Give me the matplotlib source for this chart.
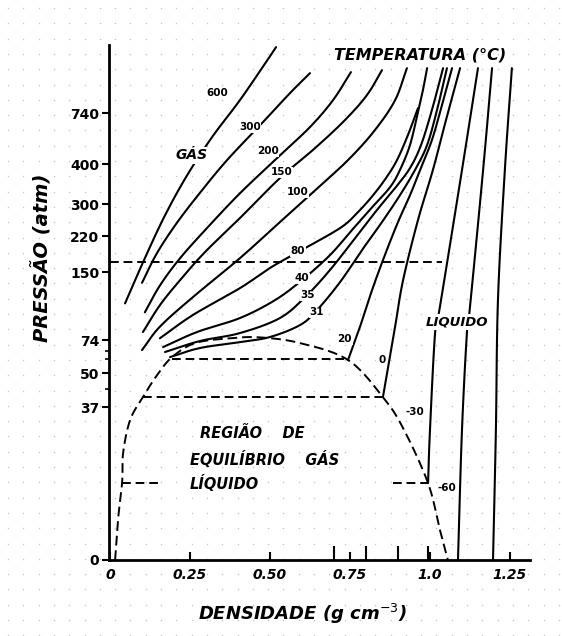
import numpy as np
import matplotlib
matplotlib.use("Agg")
import matplotlib.pyplot as plt

# Escala de pressão do diagrama (não linear): valor em atm -> altura relativa
P_ANCHOR = [0, 37, 50, 74, 150, 220, 300, 400, 740, 1600]
H_ANCHOR = [0, 153, 187, 220, 288, 324, 356, 396, 447, 515]

# Isotermas: densidade (g cm-3) e pressão (atm)
iso_600_d = [0.047, 0.109, 0.172, 0.241, 0.319, 0.406, 0.4875, 0.519]
iso_600_p = [115, 177, 272, 372, 580, 904, 1385, 1575]
iso_300_d = [0.100, 0.147, 0.209, 0.281, 0.366, 0.478, 0.5625, 0.625]
iso_300_p = [138, 187, 253, 328, 427, 680, 993, 1246]
iso_200_d = [0.109, 0.156, 0.219, 0.303, 0.406, 0.522, 0.625, 0.697, 0.753]
iso_200_p = [105, 135, 177, 240, 327, 440, 647, 904, 1259]
iso_150_d = [0.103, 0.156, 0.219, 0.297, 0.406, 0.531, 0.641, 0.734, 0.803, 0.85]
iso_150_p = [83, 113, 141, 189, 265, 365, 507, 693, 968, 1284]
iso_100_d = [0.100, 0.156, 0.259, 0.406, 0.531, 0.656, 0.75, 0.828, 0.891, 0.928]
iso_100_p = [66.7, 89, 122, 177, 255, 345, 440, 627, 904, 1309]
iso_80_d = [0.156, 0.259, 0.406, 0.50, 0.5875, 0.719, 0.775, 0.822, 0.8625, 0.897, 0.931, 0.9625]
iso_80_p = [76, 102, 132, 158, 189, 240, 280, 322, 365, 427, 593, 803]
iso_40_d = [0.166, 0.272, 0.406, 0.516, 0.60, 0.6875, 0.756, 0.819, 0.875, 0.906, 0.9375,
            0.9625, 0.978, 0.991]
iso_40_p = [68.9, 83, 98.6, 118.7, 141, 183, 235, 292, 342, 385, 527, 753, 1031, 1309]
iso_35_d = [0.172, 0.281, 0.406, 0.531, 0.6125, 0.6875, 0.766, 0.834, 0.891, 0.9375,
            0.972, 1.006, 1.041]
iso_35_p = [65.3, 73.3, 81.8, 98.6, 123, 154, 216, 285, 340, 390, 527, 778, 1309]
iso_31_d = [0.1875, 0.281, 0.406, 0.50, 0.594, 0.647, 0.719, 0.7875, 0.85, 0.906, 0.953,
            0.991, 1.022, 1.053]
iso_31_p = [61.6, 68.2, 72.5, 77.4, 90.8, 107.5, 138.8, 192.8, 255, 322, 385, 527, 778, 1309]
iso_20_d = [0.744, 0.781, 0.819, 0.859, 0.90, 0.9375, 0.969, 1.006, 1.0375, 1.069]
iso_20_p = [59.5, 88.5, 129.9, 183, 255, 322, 385, 560, 841, 1309]
iso_0_d = [0.853, 0.891, 0.916, 0.9625, 1.009, 1.05, 1.094]
iso_0_p = [40.8, 89, 141, 260, 385, 693, 1309]
iso_m30_d = [0.994, 1.0, 1.016, 1.031, 1.10, 1.15]
iso_m30_p = [18.6, 31.4, 82, 111, 385, 1309]
iso_m60_d = [1.0875, 1.10, 1.116, 1.125, 1.166, 1.194]
iso_m60_p = [0, 31.4, 85, 111, 385, 1309]
iso_solid_d = [1.197, 1.206, 1.2125, 1.234, 1.256]
iso_solid_p = [0, 31.4, 119, 385, 1309]

# Curva de saturação (tracejada)
dome_d = [0.016, 0.025, 0.038, 0.041, 0.063, 0.103, 0.147, 0.194, 0.266, 0.375,
          0.469, 0.594, 0.744, 0.853, 0.916, 0.994, 1.031, 1.056]
dome_p = [0, 9.7, 18.9, 25.9, 33.9, 40.8, 49.2, 61.6, 71.8, 76,
          77, 71.8, 59.5, 40.8, 31.9, 18.6, 7.3, 0]

# Linhas de amarração (tracejadas): (d_ini, d_fim, pressão)
tie_lines = [(0.194, 0.744, 60), (0.103, 0.853, 40.8),
             (0.038, 0.156, 18.6), (0.884, 0.994, 18.6), (0.0, 1.0375, 169)]

# Rótulos das isotermas: texto, densidade, pressão
iso_labels = ["600", "300", "200", "150", "100", "80", "40", "35", "31", "20", "0", "-30", "-60"]
label_d = [0.334, 0.4375, 0.494, 0.5375, 0.5875, 0.5875, 0.60, 0.619, 0.647, 0.734, 0.85, 0.953, 1.053]
label_p = [993, 647, 487, 380, 330, 191, 143, 124, 105, 75, 59.5, 35.8, 17.4]

y_ticks = [0, 37, 50, 74, 150, 220, 300, 400, 740]
x_ticks = [0, 0.25, 0.50, 0.75, 1.0, 1.25]
x_tick_labels = ["0", "0.25", "0.50", "0.75", "1.0", "1.25"]


def fwd(p):
    return np.interp(p, P_ANCHOR, H_ANCHOR)


def inv(h):
    return np.interp(h, H_ANCHOR, P_ANCHOR)


def smooth(d, p, n=16):
    # traço suave (Catmull-Rom) entre os pontos lidos, no espaço da escala
    pts = np.column_stack([d, fwd(np.asarray(p, float))])
    ext = np.vstack([2 * pts[0] - pts[1], pts, 2 * pts[-1] - pts[-2]])
    t = np.linspace(0, 1, n, endpoint=False)[:, None]
    out = []
    for i in range(1, len(ext) - 2):
        p0, p1, p2, p3 = ext[i - 1], ext[i], ext[i + 1], ext[i + 2]
        out.append(0.5 * ((2 * p1) + (-p0 + p2) * t
                          + (2 * p0 - 5 * p1 + 4 * p2 - p3) * t ** 2
                          + (-p0 + 3 * p1 - 3 * p2 + p3) * t ** 3))
    out.append(pts[-1:])
    out = np.vstack(out)
    return out[:, 0], inv(out[:, 1])


fig = plt.figure(figsize=(5.62, 6.36), dpi=100)

# textura pontilhada do papel
bg = fig.add_axes([0, 0, 1, 1], zorder=-5)
bg.set_xlim(0, 562)
bg.set_ylim(636, 0)
bg.axis("off")
gx, gy = np.meshgrid(np.arange(8, 562, 15.3), np.arange(8, 636, 15.3))
bg.scatter(gx.ravel(), gy.ravel(), s=1.2, color="#c4c4c4", lw=0)

ax = fig.add_axes([0.194, 0.1195, 0.749, 0.8095])
ax.patch.set_alpha(0)
ax.set_yscale("function", functions=(fwd, inv))
ax.set_xlim(-0.003, 1.3125)
ax.set_ylim(0, 1600)

curves = [
    (iso_600_d, iso_600_p), (iso_300_d, iso_300_p), (iso_200_d, iso_200_p),
    (iso_150_d, iso_150_p), (iso_100_d, iso_100_p), (iso_80_d, iso_80_p),
    (iso_40_d, iso_40_p), (iso_35_d, iso_35_p), (iso_31_d, iso_31_p),
    (iso_20_d, iso_20_p), (iso_0_d, iso_0_p), (iso_m30_d, iso_m30_p),
    (iso_m60_d, iso_m60_p), (iso_solid_d, iso_solid_p),
]
for d, p in curves:
    sx, sy = smooth(d, p)
    ax.plot(sx, sy, color="black", lw=1.5, solid_capstyle="round")

sx, sy = smooth(dome_d, dome_p)
ax.plot(sx, sy, color="black", lw=1.4, dashes=(5, 2.5))
for d0, d1, p in tie_lines:
    ax.plot([d0, d1], [p, p], color="black", lw=1.4, dashes=(4.5, 2.5))

lab_font = dict(family="DejaVu Sans", weight="bold", color="black")
for txt, d, p in zip(iso_labels, label_d, label_p):
    ax.text(d, p, txt, fontsize=7.5, ha="center", va="center", zorder=5,
            bbox=dict(boxstyle="square,pad=0.05", fc="white", ec="none"), **lab_font)

big = dict(family="DejaVu Sans", weight="bold", style="italic", color="black")
ax.text(0.256, 460, "GÁS", fontsize=10, ha="center", va="center", zorder=5,
        bbox=dict(boxstyle="square,pad=0.1", fc="white", ec="none"), **big)
ax.text(1.084, 94, "LIQUIDO", fontsize=9.5, ha="center", va="center", zorder=5,
        bbox=dict(boxstyle="square,pad=0.1", fc="white", ec="none"), **big)
ax.text(0.969, 1474, "TEMPERATURA (°C)", fontsize=11.5, ha="center", va="center", **big)
ax.text(0.281, 30.7, "REGIÃO    DE", fontsize=10.5, ha="left", va="center", **big)
ax.text(0.25, 24.2, "EQUILÍBRIO    GÁS", fontsize=10.5, ha="left", va="center", **big)
ax.text(0.25, 18.6, "LÍQUIDO", fontsize=10.5, ha="left", va="center", **big)

for side in ["top", "right"]:
    ax.spines[side].set_visible(False)
for side in ["left", "bottom"]:
    ax.spines[side].set_linewidth(2)

ax.set_yticks(y_ticks)
ax.set_yticklabels([str(v) for v in y_ticks])
ax.set_yticks([44, 60, 66], minor=True)
ax.tick_params(axis="y", which="major", direction="out", length=5, width=1.5,
               labelsize=10, pad=2)
ax.tick_params(axis="y", which="minor", direction="out", length=3, width=1.2)

ax.set_xticks(x_ticks)
ax.set_xticklabels(x_tick_labels)
ax.set_xticks([0.7, 0.8, 0.9, 0.995], minor=True)
ax.tick_params(axis="x", which="major", direction="in", length=6, width=1.5,
               labelsize=10, pad=6)
ax.tick_params(axis="x", which="minor", direction="in", length=10, width=1.5)
for lab in ax.get_yticklabels():
    lab.set_fontweight("bold")
for lab in ax.get_xticklabels():
    lab.set_fontweight("bold")
    lab.set_fontstyle("italic")

ax.set_xlabel("DENSIDADE (g cm$^{-3}$)", fontsize=13, **big)
ax.set_ylabel("PRESSÃO (atm)", fontsize=14, **big)
ax.xaxis.set_label_coords(0.46, -0.082)
ax.yaxis.set_label_coords(-0.135, 0.586)

fig.savefig("out.png", dpi=100)
